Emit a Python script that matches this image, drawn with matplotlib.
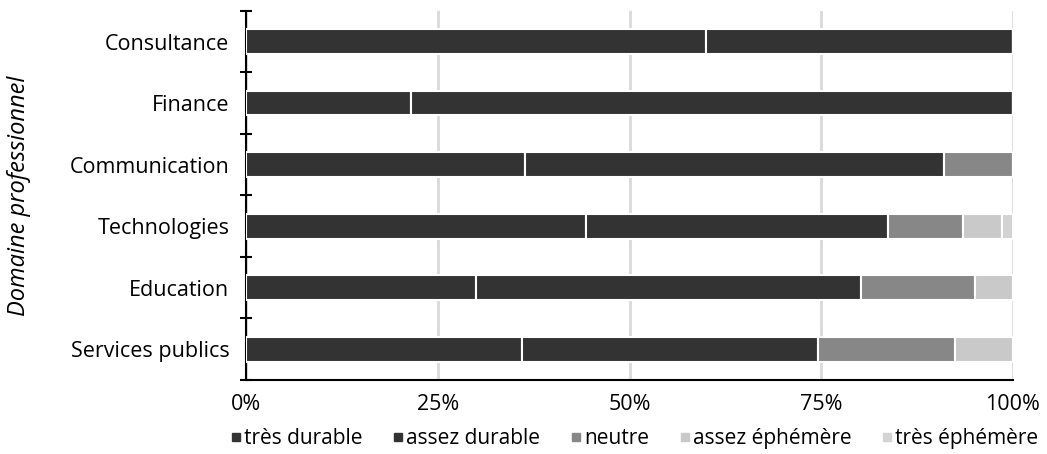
import matplotlib
matplotlib.use('Agg')
import matplotlib.pyplot as plt
from matplotlib.lines import Line2D
import numpy as np

plt.rcParams['font.family'] = ['Open Sans', 'DejaVu Sans']

domaines = ['Consultance', 'Finance', 'Communication', 'Technologies', 'Education', 'Services publics']
tres_durable = [60.0, 21.5, 36.4, 44.3, 30.0, 36.0]
assez_durable = [40.0, 78.5, 54.6, 39.4, 50.2, 38.6]
neutre = [0.0, 0.0, 9.0, 9.8, 14.8, 17.9]
assez_ephemere = [0.0, 0.0, 0.0, 5.1, 5.0, 7.5]
tres_ephemere = [0.0, 0.0, 0.0, 1.4, 0.0, 0.0]

series = [tres_durable, assez_durable, neutre, assez_ephemere, tres_ephemere]
noms = ['très durable', 'assez durable', 'neutre', 'assez éphémère', 'très éphémère']
couleurs = ['#333333', '#333333', '#878787', '#c9c9c9', '#d3d3d3']

fig = plt.figure(figsize=(10.47, 4.54), dpi=100)
ax = fig.add_axes([0.235, 0.163, 0.9675 - 0.235, 0.976 - 0.163])

y = np.arange(len(domaines))[::-1]
gauche = np.zeros(len(domaines))
for vals, nom, c in zip(series, noms, couleurs):
    vals = np.array(vals)
    ax.barh(y, vals, left=gauche, height=0.4, color=c, edgecolor='white', linewidth=1.5, label=nom, zorder=3)
    gauche += vals

ax.set_xlim(0, 100)
ax.set_ylim(-0.5, 5.5)
ax.set_xticks([0, 25, 50, 75, 100])
ax.set_xticklabels(['0%', '25%', '50%', '75%', '100%'], fontsize=15.5)
ax.xaxis.grid(True, color='#d9d9d9', linewidth=2, zorder=0)
ax.tick_params(axis='x', length=0, pad=10)

ax.set_yticks(y)
ax.set_yticklabels(domaines, fontsize=15.5)
ax.set_yticks(np.arange(-0.5, 6, 1), minor=True)
ax.tick_params(axis='y', which='major', length=0, pad=12)
ax.tick_params(axis='y', which='minor', direction='inout', length=9, width=1.5)

for s in ['top', 'right']:
    ax.spines[s].set_visible(False)
ax.spines['left'].set_linewidth(1.5)
ax.spines['bottom'].set_linewidth(1.5)

ax.set_ylabel('Domaine professionnel', fontsize=17, style='italic')
ax.yaxis.set_label_coords(-0.28, 0.5)

handles = [Line2D([], [], marker='s', linestyle='none', markersize=6, color=c) for c in couleurs]
fig.legend(handles, noms, loc='lower center', bbox_to_anchor=(0.605, -0.03), ncol=5, frameon=False,
           fontsize=15, handletextpad=0.05, columnspacing=1.35, handlelength=0.7)

fig.savefig('out.png', dpi=100)
